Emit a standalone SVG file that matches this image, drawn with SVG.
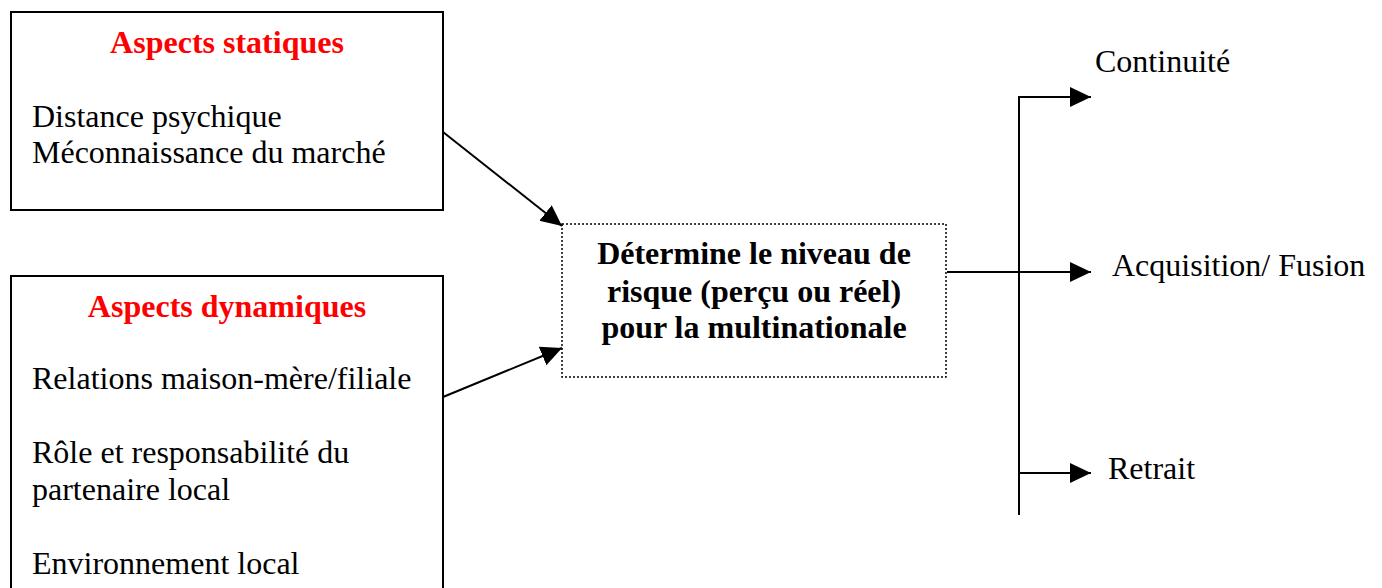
<svg xmlns="http://www.w3.org/2000/svg" width="1382" height="588" viewBox="0 0 1382 588">
<style>
text{font-family:"Liberation Serif","Times New Roman",serif;font-size:32px;fill:#000}
.h{font-weight:bold;fill:#ff0000}
.b{font-weight:bold}
.box{fill:#fff;stroke:#000;stroke-width:2}
.dot{fill:#fff;stroke:#000;stroke-width:1.5;stroke-dasharray:2 2}
.c{fill:none;stroke:#000;stroke-width:2}
</style>
<defs>
<marker id="ah" markerUnits="userSpaceOnUse" markerWidth="22" markerHeight="22" refX="21" refY="10" orient="auto" viewBox="0 0 22 20">
<path d="M0,0 L21,10 L0,20 z" fill="#000"/>
</marker>
</defs>
<g id="statiques">
<rect class="box" x="11" y="12" width="432" height="198"/>
<text class="h" x="227" y="53" text-anchor="middle">Aspects statiques</text>
<text x="32" y="127">Distance psychique</text>
<text x="32" y="163">Méconnaissance du marché</text>
</g>
<g id="dynamiques">
<rect class="box" x="11" y="276" width="432" height="340"/>
<text class="h" x="227" y="317" text-anchor="middle">Aspects dynamiques</text>
<text x="32" y="389">Relations maison-mère/filiale</text>
<text x="32" y="463">Rôle et responsabilité du</text>
<text x="32" y="500">partenaire local</text>
<text x="32" y="574">Environnement local</text>
</g>
<g id="risque">
<rect class="dot" x="562" y="224" width="384" height="153"/>
<text class="b" x="754" y="264" text-anchor="middle">Détermine le niveau de</text>
<text class="b" x="754" y="302" text-anchor="middle">risque (perçu ou réel)</text>
<text class="b" x="754" y="338" text-anchor="middle">pour la multinationale</text>
</g>
<g id="continuite"><text x="1095" y="72">Continuité</text></g>
<g id="acquisition"><text x="1112" y="276">Acquisition/ Fusion</text></g>
<g id="retrait"><text x="1108" y="479">Retrait</text></g>
<g id="connectors">
<line class="c" x1="443" y1="132" x2="562" y2="226" marker-end="url(#ah)"/>
<line class="c" x1="443" y1="397" x2="562" y2="348" marker-end="url(#ah)"/>
<line class="c" x1="947" y1="272" x2="1091" y2="272" marker-end="url(#ah)"/>
<line class="c" x1="1019" y1="96" x2="1019" y2="515"/>
<line class="c" x1="1018" y1="97" x2="1091" y2="97" marker-end="url(#ah)"/>
<line class="c" x1="1018" y1="473" x2="1091" y2="473" marker-end="url(#ah)"/>
</g>
</svg>
